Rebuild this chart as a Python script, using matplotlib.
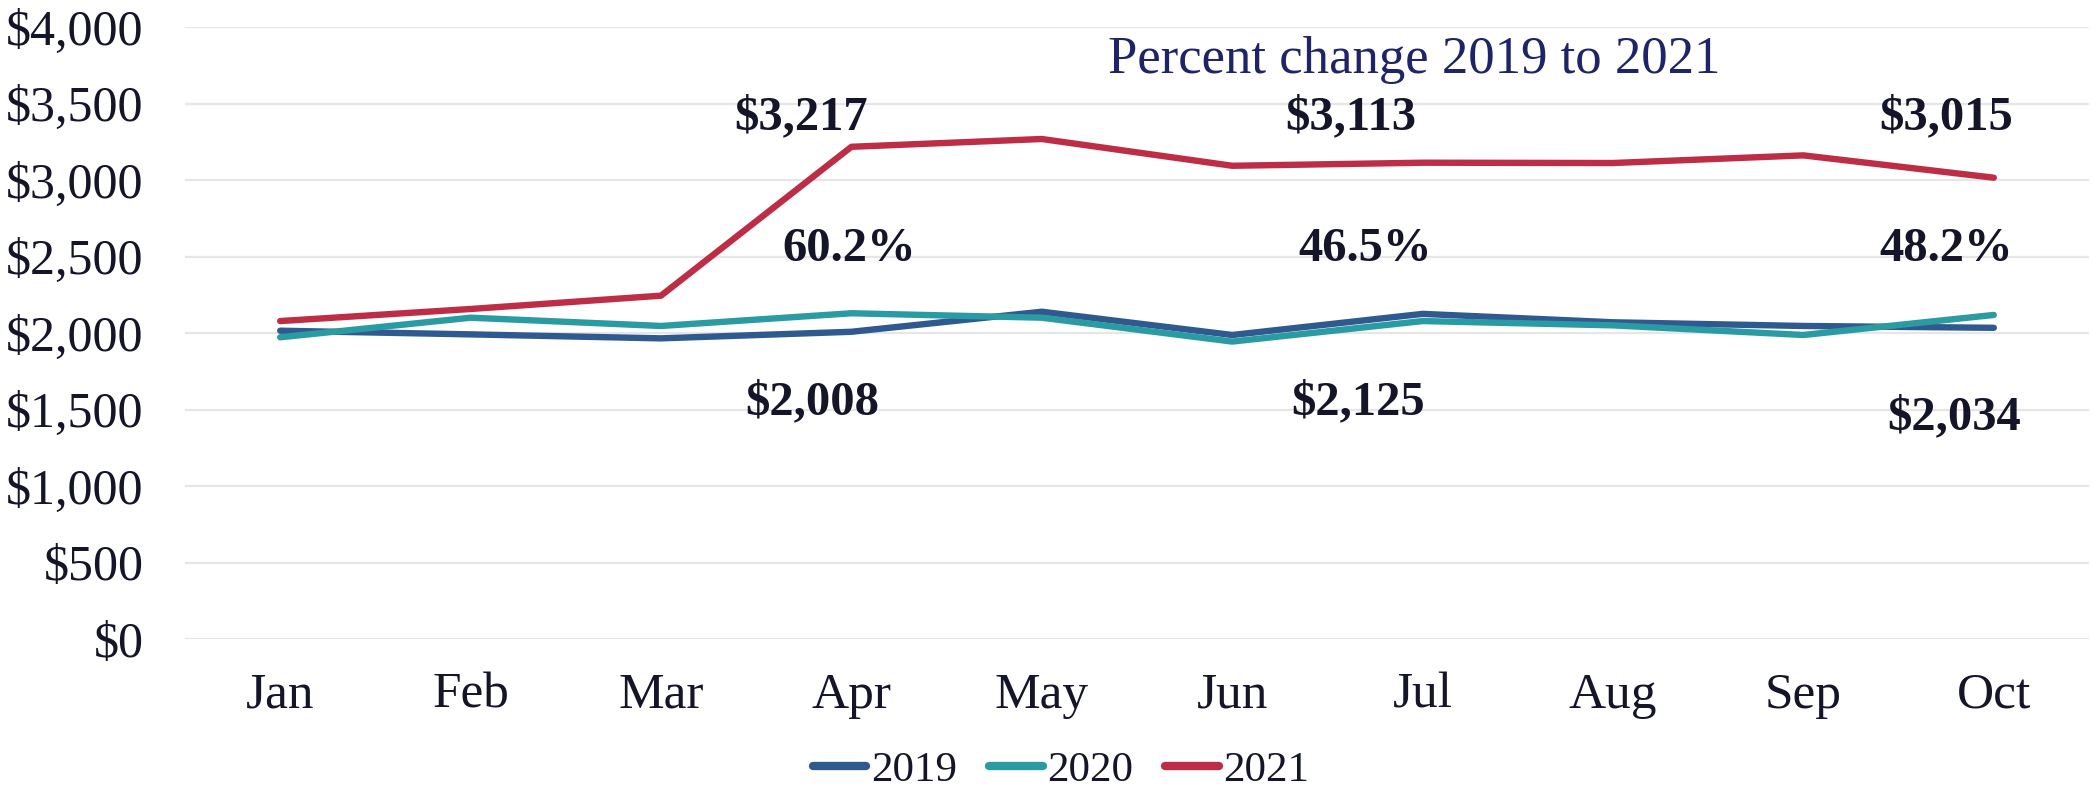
import matplotlib
matplotlib.use('Agg')
import matplotlib.pyplot as plt
from matplotlib.ticker import FuncFormatter

months = ['Jan', 'Feb', 'Mar', 'Apr', 'May', 'Jun', 'Jul', 'Aug', 'Sep', 'Oct']
y2019 = [2015, 1991, 1965, 2008, 2139, 1987, 2125, 2070, 2046, 2034]
y2020 = [1972, 2100, 2046, 2129, 2100, 1944, 2078, 2050, 1987, 2118]
y2021 = [2078, 2157, 2244, 3217, 3268, 3093, 3113, 3111, 3161, 3015]

# annotated months: (index, 2021 label, pct change, 2019 label)
notes_idx = [3, 6, 9]
notes_2021 = ['$3,217', '$3,113', '$3,015']
notes_pct = ['60.2%', '46.5%', '48.2%']
notes_2019 = ['$2,008', '$2,125', '$2,034']

plt.rcParams['font.family'] = ['Liberation Serif', 'DejaVu Serif']
txt = '#15152a'

fig = plt.figure(figsize=(20.92, 7.88), dpi=100)
ax = fig.add_axes([185/2092, 1 - 639/788, (2089 - 185)/2092, (639 - 27)/788])

x = range(len(months))
ax.plot(x, y2019, color='#2f5a8f', lw=4.6, label='2019', solid_capstyle='round')
ax.plot(x, y2020, color='#2a9ba3', lw=4.6, label='2020', solid_capstyle='round')
ax.plot(x, y2021, color='#be2d46', lw=4.6, label='2021', solid_capstyle='round')

ax.set_xlim(-0.5, len(months) - 0.5)
ax.set_ylim(0, 4000)
ax.set_yticks(range(0, 4001, 500))
ax.yaxis.set_major_formatter(FuncFormatter(lambda v, p: '${:,.0f}'.format(v)))
ax.set_xticks(list(x))
ax.set_xticklabels(months)
ax.grid(axis='y', color='#e6e6e6', lw=1.6)
ax.set_axisbelow(True)
for s in ax.spines.values():
    s.set_visible(False)
ax.tick_params(axis='y', length=0, pad=30, labelsize=36, labelcolor=txt)
ax.tick_params(axis='x', length=0, pad=24, labelsize=37, labelcolor=txt)

# horizontal offsets of each label from its month (in month units)
off_2021 = [-0.265, -0.375, -0.25]
off_pct = [-0.01, -0.30, -0.25]
off_2019 = [-0.205, -0.34, -0.21]
y_2019 = [1549, 1549, 1451]
for k, i in enumerate(notes_idx):
    ax.text(i + off_2021[k], 3412, notes_2021[k], ha='center', va='center',
            fontsize=35, fontweight='bold', color=txt)
    ax.text(i + off_pct[k], 2549, notes_pct[k], ha='center', va='center',
            fontsize=35, fontweight='bold', color=txt)
    ax.text(i + off_2019[k], y_2019[k], notes_2019[k], ha='center', va='center',
            fontsize=35, fontweight='bold', color=txt)

ax.text(5.955, 3784, 'Percent change 2019 to 2021', ha='center', va='center',
        fontsize=38, color='#1f2368')

leg = fig.legend(loc='center', bbox_to_anchor=(1061/2092, 1 - 770/788), ncol=3,
                 frameon=False, fontsize=31, handlelength=1.25, handletextpad=0.1,
                 columnspacing=0.75, borderaxespad=0)
for t in leg.get_texts():
    t.set_color(txt)
for h in leg.get_lines():
    h.set_linewidth(6)

fig.savefig('out.png', dpi=100)
